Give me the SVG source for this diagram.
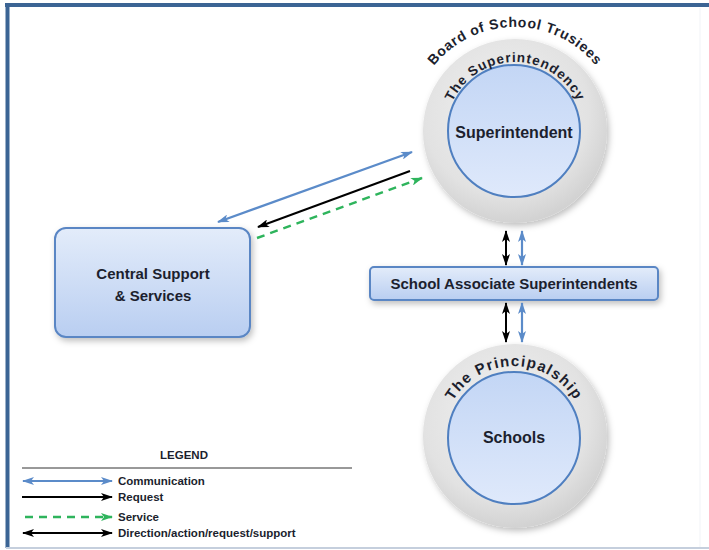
<svg xmlns="http://www.w3.org/2000/svg" width="709" height="550" viewBox="0 0 709 550">
<style>
  .lbl { font-family: "Liberation Sans", "DejaVu Sans", sans-serif; font-weight: bold; fill: #1c1f2e; }
  .arc { font-family: "Liberation Sans", "DejaVu Sans", sans-serif; font-weight: bold; fill: #1c1f2e; }
  .ring { fill: url(#ringGrad); filter: url(#shadow); }
  .inner { fill: url(#innerGrad); stroke: #4f7fc0; stroke-width: 2; }
  .box { fill: url(#boxGrad); stroke: #5a86c4; stroke-width: 2; filter: url(#shadow); }
  .blue { stroke: #5b8bc9; stroke-width: 2.2; fill: none; }
  .black { stroke: #000; stroke-width: 2; fill: none; }
  .green { stroke: #2eb45c; stroke-width: 2.4; fill: none; stroke-dasharray: 8 6; }
  .leg { font-family: "Liberation Sans", "DejaVu Sans", sans-serif; font-weight: bold; font-size: 11.5px; fill: #1c1f2e; }
</style>
<defs>
  <radialGradient id="ringGrad" cx="0.45" cy="0.4" r="0.6">
    <stop offset="0" stop-color="#f2f2f2"/>
    <stop offset="0.75" stop-color="#e2e2e2"/>
    <stop offset="1" stop-color="#d2d2d2"/>
  </radialGradient>
  <linearGradient id="innerGrad" x1="0" y1="0" x2="0" y2="1">
    <stop offset="0" stop-color="#c3d6f5"/>
    <stop offset="1" stop-color="#dfe9fb"/>
  </linearGradient>
  <linearGradient id="boxGrad" x1="0" y1="0" x2="0" y2="1">
    <stop offset="0" stop-color="#e3ecfa"/>
    <stop offset="1" stop-color="#b9cef1"/>
  </linearGradient>
  <filter id="shadow" x="-20%" y="-20%" width="150%" height="150%">
    <feDropShadow dx="2" dy="3" stdDeviation="3" flood-color="#000" flood-opacity="0.25"/>
  </filter>
  <marker id="hBlue" viewBox="0 0 12 8" refX="11" refY="4" markerWidth="12" markerHeight="8" markerUnits="userSpaceOnUse" orient="auto-start-reverse">
    <path d="M0,0 L12,4 L0,8 L3,4 Z" fill="#5b8bc9"/>
  </marker>
  <marker id="hBlack" viewBox="0 0 12 8" refX="11" refY="4" markerWidth="12" markerHeight="8" markerUnits="userSpaceOnUse" orient="auto-start-reverse">
    <path d="M0,0 L12,4 L0,8 L3,4 Z" fill="#000"/>
  </marker>
  <marker id="hGreen" viewBox="0 0 12 8" refX="11" refY="4" markerWidth="12" markerHeight="8" markerUnits="userSpaceOnUse" orient="auto-start-reverse">
    <path d="M0,0 L12,4 L0,8 L3,4 Z" fill="#2eb45c"/>
  </marker>
  <path id="arcBoard" d="M411,131 A104,104 0 0 1 619,131"/>
  <path id="arcSup" d="M446,131 A69,69 0 0 1 584,131"/>
  <path id="arcPrin" d="M443,437 A71,71 0 0 1 585,437"/>
</defs>

<rect x="0" y="0" width="709" height="550" fill="#ffffff"/>

<!-- frame -->
<g id="frame">
  <line x1="5" y1="5" x2="709" y2="5" stroke="#3b6494" stroke-width="4"/>
  <line x1="7.5" y1="3" x2="7.5" y2="548" stroke="#3b6494" stroke-width="4"/>
  <line x1="6" y1="548" x2="709" y2="548" stroke="#c5cfdd" stroke-width="2"/>
  <line x1="700" y1="8" x2="700" y2="547" stroke="#f1f3f7" stroke-width="1"/>
</g>

<!-- superintendency -->
<g id="superintendency">
  <circle class="ring" cx="515" cy="131" r="92"/>
  <circle class="inner" cx="514" cy="131" r="66"/>
  <text class="arc" font-size="14" letter-spacing="0.7"><textPath href="#arcBoard" startOffset="50%" text-anchor="middle">Board of School Trusiees</textPath></text>
  <text class="arc" font-size="13.5" letter-spacing="1"><textPath href="#arcSup" startOffset="50%" text-anchor="middle">The Superintendency</textPath></text>
  <text class="lbl" x="514" y="138" font-size="16" text-anchor="middle">Superintendent</text>
</g>

<!-- school associate superintendents -->
<g id="associates">
  <rect class="box" x="370" y="267" width="288" height="33" rx="4"/>
  <text class="lbl" x="514" y="289" font-size="15" text-anchor="middle">School Associate Superintendents</text>
</g>

<!-- schools -->
<g id="principalship">
  <circle class="ring" cx="515" cy="436" r="92"/>
  <circle class="inner" cx="514" cy="438" r="66"/>
  <text class="arc" font-size="15" letter-spacing="1.3"><textPath href="#arcPrin" startOffset="50%" text-anchor="middle">The Principalship</textPath></text>
  <text class="lbl" x="514" y="443" font-size="16" text-anchor="middle">Schools</text>
</g>

<!-- central support -->
<g id="central">
  <rect class="box" x="55" y="228" width="195" height="109" rx="11"/>
  <text class="lbl" x="153" y="279" font-size="15" text-anchor="middle">Central Support</text>
  <text class="lbl" x="153" y="301" font-size="15" text-anchor="middle">&amp; Services</text>
</g>

<!-- connectors -->
<g id="connectors">
  <line class="blue" x1="218" y1="222" x2="412" y2="152" marker-start="url(#hBlue)" marker-end="url(#hBlue)"/>
  <line class="black" x1="410" y1="171" x2="258" y2="227" marker-end="url(#hBlack)"/>
  <line class="green" x1="257" y1="238" x2="422" y2="178" marker-end="url(#hGreen)"/>
  <line class="black" x1="506" y1="231" x2="506" y2="265" marker-start="url(#hBlack)" marker-end="url(#hBlack)"/>
  <line class="blue" x1="522" y1="231" x2="522" y2="265" marker-start="url(#hBlue)" marker-end="url(#hBlue)"/>
  <line class="black" x1="506" y1="303" x2="506" y2="342" marker-start="url(#hBlack)" marker-end="url(#hBlack)"/>
  <line class="blue" x1="522" y1="303" x2="522" y2="342" marker-start="url(#hBlue)" marker-end="url(#hBlue)"/>
</g>

<!-- legend -->
<g id="legend">
  <text class="leg" x="184" y="459" font-size="9.5" text-anchor="middle">LEGEND</text>
  <line x1="22" y1="468" x2="352" y2="468" stroke="#333" stroke-width="1"/>
  <line class="blue" x1="23" y1="481" x2="112" y2="481" marker-start="url(#hBlue)" marker-end="url(#hBlue)"/>
  <text class="leg" x="118" y="485">Communication</text>
  <line class="black" x1="22" y1="497" x2="112" y2="497" marker-end="url(#hBlack)"/>
  <text class="leg" x="118" y="501">Request</text>
  <line class="green" x1="25" y1="517" x2="112" y2="517" marker-end="url(#hGreen)"/>
  <text class="leg" x="118" y="521">Service</text>
  <line class="black" x1="23" y1="533" x2="112" y2="533" marker-start="url(#hBlack)" marker-end="url(#hBlack)"/>
  <text class="leg" x="118" y="537">Direction/action/request/support</text>
</g>
</svg>
